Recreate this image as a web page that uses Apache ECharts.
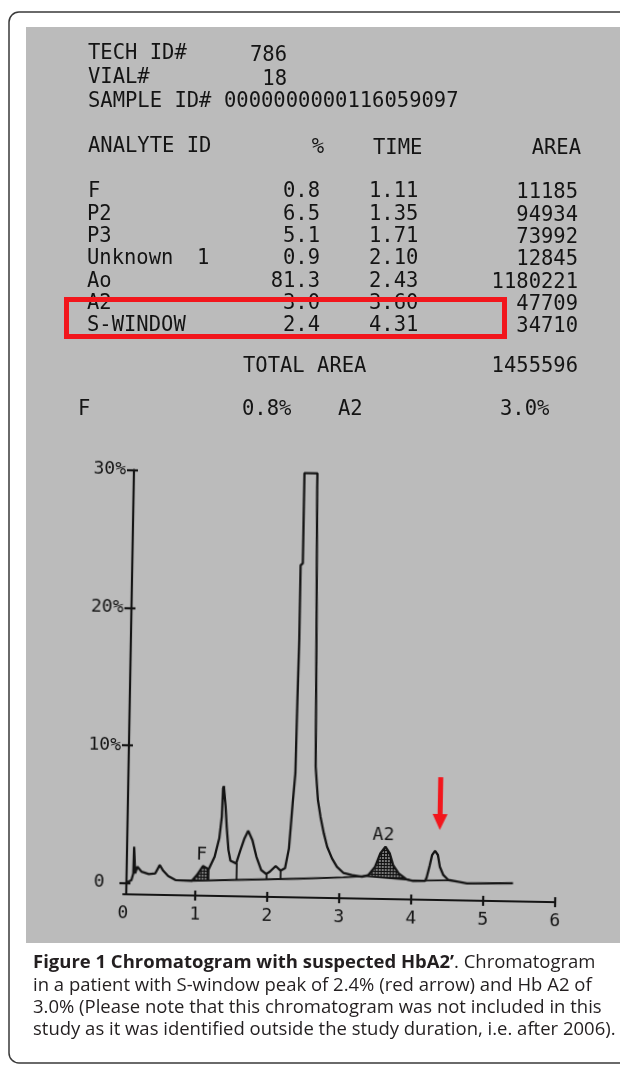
<!DOCTYPE html>
<html>
<head>
<meta charset="utf-8">
<script src="https://cdn.jsdelivr.net/npm/echarts@6/dist/echarts.min.js"></script>
<style>
  html, body { margin: 0; padding: 0; background: #fff; }
  #page { position: absolute; left: 0; top: 0; width: 620px; height: 1065px; }
  /* the printout was scanned a little crooked, so the plot is turned by ~1 degree */
  #chart { position: absolute; left: 0; top: 0; width: 620px; height: 1065px;
           transform: rotate(1.05deg); transform-origin: 330px 690px; }
</style>
</head>
<body>
<div id="page"></div>
<div id="chart"></div>
<script>
// ---- printout header ----
const headerKeys = ["TECH ID#", "VIAL#", "SAMPLE ID#"];
const headerValues = ["786", "18", "0000000000116059097"];

// ---- analyte table ----
const analyteIds = ["F", "P2", "P3", "Unknown", "Ao", "A2", "S-WINDOW"];
const analytePct = ["0.8", "6.5", "5.1", "0.9", "81.3", "3.0", "2.4"];
const analyteTime = ["1.11", "1.35", "1.71", "2.10", "2.43", "3.60", "4.31"];
const analyteArea = ["11185", "94934", "73992", "12845", "1180221", "47709", "34710"];
const totalArea = "1455596";
const summary = ["F", "0.8%", "A2", "3.0%"];

// ---- chromatogram (time in min, signal in %) ----
const xTicks = [0, 1, 2, 3, 4, 5, 6];
const yTicks = [0, 10, 20, 30];
const trace = [
  [0.04, 0.02], [0.11, 0.22], [0.135, 0.71], [0.14, 2.64], [0.16, 0.71],
  [0.19, 1.2], [0.25, 0.84], [0.35, 0.68], [0.44, 0.74], [0.5, 1.35],
  [0.55, 0.94], [0.62, 0.56], [0.72, 0.28], [0.95, 0.25], [1.02, 0.68],
  [1.1, 1.34], [1.18, 1.1], [1.26, 2.03], [1.32, 3.37], [1.35, 4.94],
  [1.36, 7.0], [1.37, 7.17], [1.4, 5.67], [1.42, 4.22], [1.45, 2.53],
  [1.48, 1.76], [1.56, 1.57], [1.61, 2.43], [1.67, 3.4], [1.72, 3.96],
  [1.78, 3.29], [1.84, 2.08], [1.91, 1.12], [1.98, 0.84], [2.03, 1.01],
  [2.11, 1.43], [2.18, 1.1], [2.24, 1.28], [2.29, 2.73], [2.33, 6.0],
  [2.36, 8.19], [2.37, 13.75], [2.38, 17.9], [2.38, 23.3], [2.41, 23.45],
  [2.41, 30], [2.59, 30], [2.59, 29.0], [2.62, 17.4], [2.64, 8.7],
  [2.68, 6.28], [2.72, 5.07], [2.77, 3.87], [2.82, 2.9], [2.89, 2.06],
  [2.96, 1.46], [3.05, 1.03], [3.17, 0.88], [3.31, 0.77], [3.4, 0.9],
  [3.49, 1.51], [3.56, 2.49], [3.63, 2.98], [3.69, 2.51], [3.74, 1.66],
  [3.82, 1.06], [3.93, 0.64], [4.02, 0.54], [4.19, 0.56], [4.21, 0.81],
  [4.25, 1.71], [4.28, 2.44], [4.32, 2.75], [4.36, 2.45], [4.39, 1.6],
  [4.44, 1.0], [4.51, 0.65], [4.65, 0.54], [4.77, 0.43], [5.41, 0.49]
];
// integration baselines under the peaks
const baselines = [
  [[0.95, 0.25], [2.43, 0.54], [3.05, 0.7], [3.36, 0.82]],
  [[3.36, 0.82], [3.97, 0.6]],
  [[4.2, 0.58], [4.53, 0.62]]
];
// peak cut lines: time, top, bottom
const dropLines = [[1.18, 1.1, 0.3], [1.56, 1.57, 0.37], [1.98, 0.84, 0.45], [2.18, 1.1, 0.49]];
// hatched peaks (F and A2)
const hatchF = [[0.95, 0.25], [1.02, 0.68], [1.1, 1.34], [1.18, 1.1], [1.18, 0.3]];
const hatchA2 = [[3.36, 0.82], [3.4, 0.9], [3.49, 1.51], [3.56, 2.49], [3.63, 2.98], [3.69, 2.51],
                 [3.74, 1.66], [3.82, 1.06], [3.93, 0.64], [3.97, 0.6]];
const peakLabels = ["F", "A2"];
const peakLabelAt = [[1.08, 2.13], [3.6, 3.83]];
const arrowMark = [4.38, 8.1, 4.26]; // time, top, tip

const captionLines = [
  "**Figure 1 Chromatogram with suspected HbA2\u2019**. Chromatogram",
  "in a patient with S-window peak of 2.4% (red arrow) and Hb A2 of",
  "3.0% (Please note that this chromatogram was not included in this",
  "study as it was identified outside the study duration, i.e. after 2006)."
];

const ink = "#141414";
const red = "#f2161c";
const mono = '"DejaVu Sans Mono", "Liberation Mono", monospace';
const capFamily = '"Open Sans", "Noto Sans", sans-serif';

// ---------- page: frame, printout text, caption ----------
const els = [];
els.push({ type: "rect", shape: { x: 9, y: 12, width: 640, height: 1051, r: 10 },
  style: { fill: "#fff", stroke: "#3a3a3a", lineWidth: 1.5 } });
els.push({ type: "rect", shape: { x: 26, y: 27, width: 600, height: 916 },
  style: { fill: "#bbbbbb" } });

function txt(x, y, s, align, font, color) {
  els.push({ type: "text", x: x, y: y, z: 10,
    style: { text: s, font: font || ("20.5px " + mono), fill: color || ink,
      textAlign: align || "left", align: align || "left",
      textVerticalAlign: "middle", verticalAlign: "middle" } });
}

const headY = [54, 78, 102];
headerKeys.forEach((k, i) => txt(88, headY[i], k));
txt(287, 56, headerValues[0], "right");
txt(287, 80, headerValues[1], "right");
txt(224, 102, headerValues[2]);

txt(88, 147, "ANALYTE ID");
txt(324, 148, "%", "right");
txt(373, 149, "TIME");
txt(581, 149, "AREA", "right");

analyteIds.forEach((id, i) => {
  const y = 192 + i * 22.3;
  txt(i === 0 ? 88 : 87, y, id);
  if (id === "Unknown") txt(197, y, "1");
  txt(320, y, analytePct[i], "right");
  txt(369, y, analyteTime[i]);
  txt(578, y + 1, analyteArea[i], "right");
});
txt(243, 367, "TOTAL AREA");
txt(578, 367, totalArea, "right");
txt(78, 410, summary[0]);
txt(242, 410, summary[1]);
txt(338, 410, summary[2]);
txt(500, 410, summary[3]);

els.push({ type: "rect", z: 20, shape: { x: 66.5, y: 299.5, width: 438, height: 37 },
  style: { fill: "none", stroke: red, lineWidth: 5 } });

// caption, left aligned, sized so the lines run as wide as in the figure
const mctx = document.createElement("canvas").getContext("2d");
function measure(s, bold, size) {
  mctx.font = (bold ? "bold " : "") + size + "px " + capFamily;
  return mctx.measureText(s).width;
}
const capSize = 16 * 569 / measure(captionLines[2], false, 16);
captionLines.forEach((line, li) => {
  let x = 33;
  const y = 963 + li * 22.3;
  line.split("**").forEach((seg, si) => {
    if (!seg) return;
    const bold = si % 2 === 1;
    txt(x, y, seg, "left", (bold ? "bold " : "") + capSize + "px " + capFamily, "#231f20");
    x += measure(seg, bold, capSize);
  });
});

const page = echarts.init(document.getElementById("page"));
page.setOption({ animation: false, graphic: { elements: els } });

// ---------- the chromatogram ----------
const hatch = document.createElement("canvas");
hatch.width = 3; hatch.height = 3;
const hc = hatch.getContext("2d");
hc.fillStyle = "#7a7a7a"; hc.fillRect(0, 0, 3, 3);
hc.fillStyle = "#101010"; hc.fillRect(0, 0, 3, 1); hc.fillRect(0, 0, 1, 3);
const hatchRegions = [hatchF, hatchA2];

const chart = echarts.init(document.getElementById("chart"));
const axisLine = { color: ink, width: 2.2 };
const tickInner = [1, 2, 3, 4, 5, 6];

chart.setOption({
  animation: false,
  backgroundColor: "transparent",
  grid: { left: 127, right: 61, top: 473.6, bottom: 167, outerBoundsMode: "none" },
  xAxis: [
    {
      type: "value", min: 0, max: 6, interval: 1, position: "bottom",
      axisLine: { show: true, onZero: false, lineStyle: axisLine },
      axisTick: { show: true, customValues: tickInner, length: 5, lineStyle: axisLine },
      axisLabel: { customValues: xTicks, margin: 10, color: ink, fontFamily: mono, fontSize: 18 },
      splitLine: { show: false }
    },
    {
      type: "value", min: 0, max: 6, interval: 1, position: "bottom",
      axisLine: { show: false, onZero: false },
      axisTick: { show: true, inside: true, customValues: tickInner, length: 5, lineStyle: axisLine },
      axisLabel: { show: false },
      splitLine: { show: false }
    }
  ],
  yAxis: [
    {
      type: "value", min: -0.82, max: 30, position: "left", offset: -3,
      axisLine: { show: true, onZero: false, lineStyle: axisLine },
      axisTick: { show: true, customValues: yTicks, length: 7, lineStyle: axisLine },
      axisLabel: {
        customValues: yTicks, margin: 8, color: ink, fontFamily: mono, fontSize: 18,
        formatter: (v) => (v === 0 ? "{z|0}" : v + "%"),
        rich: { z: { padding: [0, 14, 0, 0], color: ink, fontFamily: mono, fontSize: 18 } }
      },
      splitLine: { show: false }
    },
    {
      type: "value", min: -0.82, max: 30, position: "left", offset: -3,
      axisLine: { show: false, onZero: false },
      axisTick: { show: true, inside: true, customValues: yTicks, length: 4, lineStyle: axisLine },
      axisLabel: { show: false },
      splitLine: { show: false }
    }
  ],
  series: [
    {
      type: "custom", silent: true, z: 1,
      data: hatchRegions.map((r, i) => [i]),
      renderItem: (params, api) => ({
        type: "polygon",
        shape: { points: hatchRegions[params.dataIndex].map((p) => api.coord(p)) },
        style: { fill: { image: hatch, repeat: "repeat" }, stroke: "none" }
      })
    },
    {
      type: "lines", coordinateSystem: "cartesian2d", polyline: true, silent: true, z: 3,
      data: baselines.map((c) => ({ coords: c })),
      lineStyle: { color: ink, width: 1.8, opacity: 1 }
    },
    {
      type: "lines", coordinateSystem: "cartesian2d", silent: true, z: 3,
      data: dropLines.map((d) => ({ coords: [[d[0], d[1]], [d[0], d[2]]] })),
      lineStyle: { color: ink, width: 1.8, opacity: 1 }
    },
    {
      type: "line", data: trace, showSymbol: false, symbol: "none", clip: false, z: 4,
      lineStyle: { color: ink, width: 2.3 }, silent: true
    },
    {
      type: "custom", silent: true, z: 5,
      data: peakLabels.map((n, i) => [i]),
      renderItem: (params, api) => {
        const p = api.coord(peakLabelAt[params.dataIndex]);
        return {
          type: "text", x: p[0], y: p[1],
          style: { text: peakLabels[params.dataIndex], font: "18px " + mono, fill: ink,
            textAlign: "center", align: "center", textVerticalAlign: "middle", verticalAlign: "middle" }
        };
      }
    },
    {
      type: "custom", silent: true, z: 6,
      data: [[0]],
      renderItem: (params, api) => {
        const top = api.coord([arrowMark[0], arrowMark[1]]);
        const tip = api.coord([arrowMark[0], arrowMark[2]]);
        const headH = 16, headW = 7.5, shaftW = 5;
        return {
          type: "group",
          children: [
            { type: "rect", shape: { x: top[0] - shaftW / 2, y: top[1], width: shaftW, height: tip[1] - headH - top[1] + 1 },
              style: { fill: red } },
            { type: "polygon", shape: { points: [[tip[0] - headW, tip[1] - headH], [tip[0] + headW, tip[1] - headH], [tip[0], tip[1]]] },
              style: { fill: red } }
          ]
        };
      }
    }
  ]
});
</script>
</body>
</html>
